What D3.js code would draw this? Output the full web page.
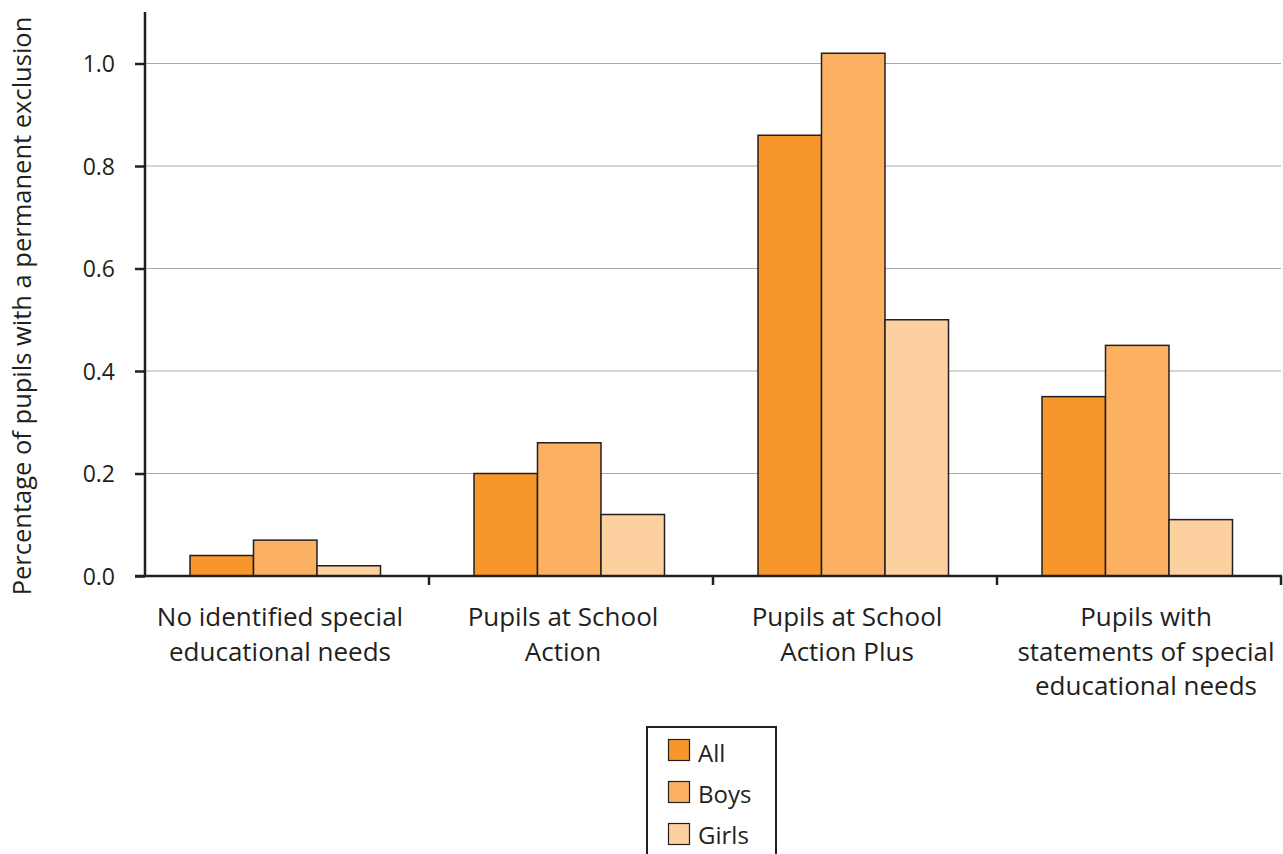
<!DOCTYPE html>
<html><head><meta charset="utf-8">
<script src="https://cdn.jsdelivr.net/npm/d3@7"></script>
<style>body{margin:0;background:#fff;} svg{display:block;} text{font-family:"Open Sans","Liberation Sans",sans-serif;fill:#231f20;}</style>
</head><body>
<svg id="c" width="1283" height="854"></svg>
<script>
const categories = [
  ["No identified special", "educational needs"],
  ["Pupils at School", "Action"],
  ["Pupils at School", "Action Plus"],
  ["Pupils with", "statements of special", "educational needs"]
];
const seriesNames = ["All", "Boys", "Girls"];
const allValues = [0.04, 0.20, 0.86, 0.35];
const boysValues = [0.07, 0.26, 1.02, 0.45];
const girlsValues = [0.02, 0.12, 0.50, 0.11];
const yTicks = [0.0, 0.2, 0.4, 0.6, 0.8, 1.0];
const colors = ["#f7962a", "#fbb062", "#fdd09f"];

const series = [allValues, boysValues, girlsValues];
const svg = d3.select("#c");
const x0 = 145, x1 = 1281, yTop = 12, y0 = 576;
const labelShift = [-7, -8, -8, 7];
const y = d3.scaleLinear().domain([0, 1]).range([y0, 63.5]);
const x = d3.scaleBand().domain(d3.range(categories.length)).range([x0, x1]).paddingInner(0).paddingOuter(0);
const inner = d3.scaleBand().domain(d3.range(3)).range([45, 45 + 190.5]);

// gridlines
svg.append("g").selectAll("line").data(yTicks.filter(d => d > 0)).join("line")
  .attr("x1", x0).attr("x2", x1).attr("y1", d => y(d)).attr("y2", d => y(d))
  .attr("stroke", "#a7a9ac").attr("stroke-width", 1.2);

// bars
categories.forEach((c, i) => {
  series.forEach((s, j) => {
    svg.append("rect")
      .attr("x", x(i) + inner(j)).attr("width", inner.bandwidth())
      .attr("y", y(s[i])).attr("height", y0 - y(s[i]))
      .attr("fill", colors[j]).attr("stroke", "#231f20").attr("stroke-width", 1.5);
  });
});

// y axis
const yAxis = d3.axisLeft(y).tickValues(yTicks).tickFormat(d3.format(".1f")).tickSize(10).tickPadding(20);
const gy = svg.append("g").attr("transform", `translate(${x0},0)`).call(yAxis);
gy.select(".domain").remove();
gy.selectAll(".tick line").attr("stroke", "#231f20").attr("stroke-width", 2.5);
gy.selectAll(".tick text").attr("font-size", 23).attr("fill", "#231f20").attr("dy", "0.36em").style("font-family", '"Open Sans",sans-serif');
svg.append("line").attr("x1", x0).attr("x2", x0).attr("y1", yTop).attr("y2", y0 + 1).attr("stroke", "#231f20").attr("stroke-width", 2.5);

// x axis
svg.append("line").attr("x1", x0 - 10).attr("x2", x1 + 1).attr("y1", y0).attr("y2", y0).attr("stroke", "#231f20").attr("stroke-width", 2.5);
const bounds = d3.range(categories.length).map(i => x(i) + x.bandwidth());
svg.append("g").selectAll("line").data(bounds).join("line")
  .attr("x1", d => d).attr("x2", d => d).attr("y1", y0).attr("y2", y0 + 9)
  .attr("stroke", "#231f20").attr("stroke-width", 2.5);

// category labels
categories.forEach((lines, i) => {
  const t = svg.append("text").attr("text-anchor", "middle").attr("font-size", 26).attr("y", 626);
  const cx = x(i) + x.bandwidth() / 2 + labelShift[i];
  lines.forEach((l, k) => t.append("tspan").attr("x", cx).attr("dy", k === 0 ? 0 : 34.5).text(l));
});

// y title
svg.append("text").attr("transform", "translate(31,306) rotate(-90)").attr("text-anchor", "middle")
  .attr("font-size", 25.5).text("Percentage of pupils with a permanent exclusion");

// legend
const lg = svg.append("g").attr("transform", "translate(647,727)");
lg.append("rect").attr("x", 0).attr("y", 0).attr("width", 129).attr("height", 140)
  .attr("fill", "#fff").attr("stroke", "#231f20").attr("stroke-width", 2);
seriesNames.forEach((n, j) => {
  lg.append("rect").attr("x", 21.5).attr("y", 12.5 + j * 42).attr("width", 21).attr("height", 21)
    .attr("fill", colors[j]).attr("stroke", "#231f20").attr("stroke-width", 1.2);
  lg.append("text").attr("x", 51).attr("y", 35 + j * 41).attr("font-size", 24).text(n);
});
</script>
</body></html>
